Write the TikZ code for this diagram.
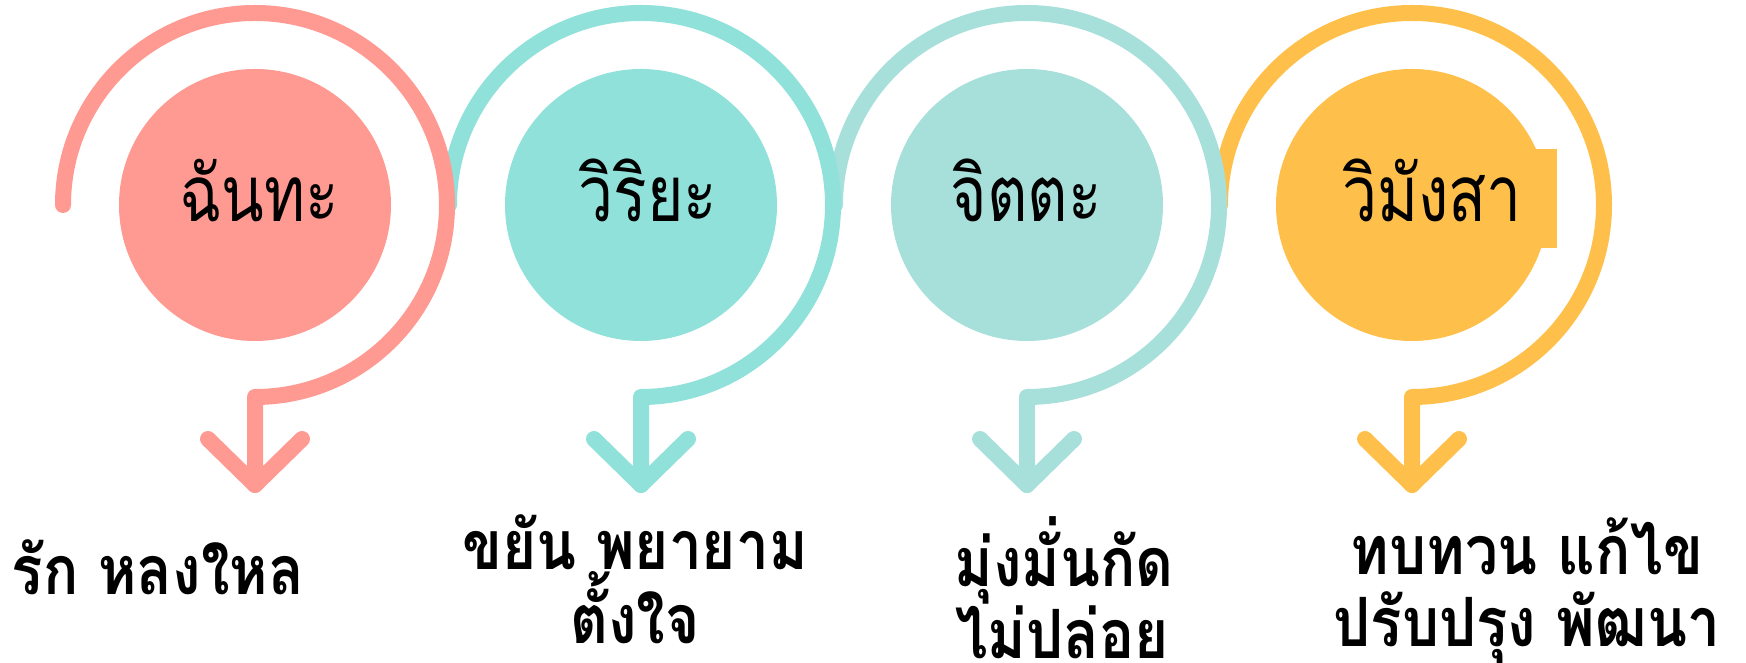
\documentclass[tikz,border=0pt]{standalone}
\usepackage{fontspec}
\newfontfamily\thaititle[Script=Thai,FakeStretch=0.8]{Loma}
\newfontfamily\thaicap[Script=Thai,FakeStretch=0.86]{Loma}
\definecolor{cA}{HTML}{FF9A93}
\definecolor{cB}{HTML}{91E1DB}
\definecolor{cC}{HTML}{A7DFDA}
\definecolor{cD}{HTML}{FFC04B}
\tikzset{
  ring/.style={line width=16pt, line cap=round, line join=round},
  disc/.style={circle, minimum size=272pt, inner sep=0pt},
  title/.style={font=\thaititle\fontsize{78}{80}\selectfont, anchor=base, inner sep=0pt},
  caption/.style={font=\thaicap\bfseries\fontsize{68}{72}\selectfont, anchor=base, inner sep=0pt},
}
\begin{document}
\begin{tikzpicture}[x=1pt,y=1pt]
\useasboundingbox (0,0) rectangle (1746,663);
% step 4
\coordinate (c4) at (1412,458);
\draw[ring, draw=cD] (1220,458) arc[start angle=180, end angle=-90, radius=192] -- (1412,178);
\draw[ring, draw=cD] (1365,224) -- (1412,178) -- (1459,224);
\node[disc, fill=cD] (d4) at (c4) {};
\fill[cD] (1530,415) rectangle (1557,514);
% step 3
\coordinate (c3) at (1027,458);
\draw[ring, draw=cC] (835,458) arc[start angle=180, end angle=-90, radius=192] -- (1027,178);
\draw[ring, draw=cC] (980,224) -- (1027,178) -- (1074,224);
\node[disc, fill=cC] (d3) at (c3) {};
% step 2
\coordinate (c2) at (641,458);
\draw[ring, draw=cB] (449,458) arc[start angle=180, end angle=-90, radius=192] -- (641,178);
\draw[ring, draw=cB] (594,224) -- (641,178) -- (688,224);
\node[disc, fill=cB] (d2) at (c2) {};
% step 1
\coordinate (c1) at (255,458);
\draw[ring, draw=cA] (63,458) arc[start angle=180, end angle=-90, radius=192] -- (255,178);
\draw[ring, draw=cA] (208,224) -- (255,178) -- (302,224);
\node[disc, fill=cA] (d1) at (c1) {};
% titles
\node[title] (t1) at (259,441) {ฉันทะ};
\node[title] (t2) at (648,441) {วิริยะ};
\node[title] (t3) at (1026,441) {จิตตะ};
\node[title] (t4) at (1432,441) {วิมังสา};
% captions
\node[caption] (a1) at (158,68) {รัก หลงใหล};
\node[caption] (b1) at (635,93) {ขยัน พยายาม};
\node[caption] (b2) at (635,19) {ตั้งใจ};
\node[caption] (e1) at (1064,76) {มุ่งมั่นกัด};
\node[caption] (e2) at (1062,4) {ไม่ปล่อย};
\node[caption] (f1) at (1527,88) {ทบทวน แก้ไข};
\node[caption] (f2) at (1527,16) {ปรับปรุง พัฒนา};
\end{tikzpicture}
\end{document}
